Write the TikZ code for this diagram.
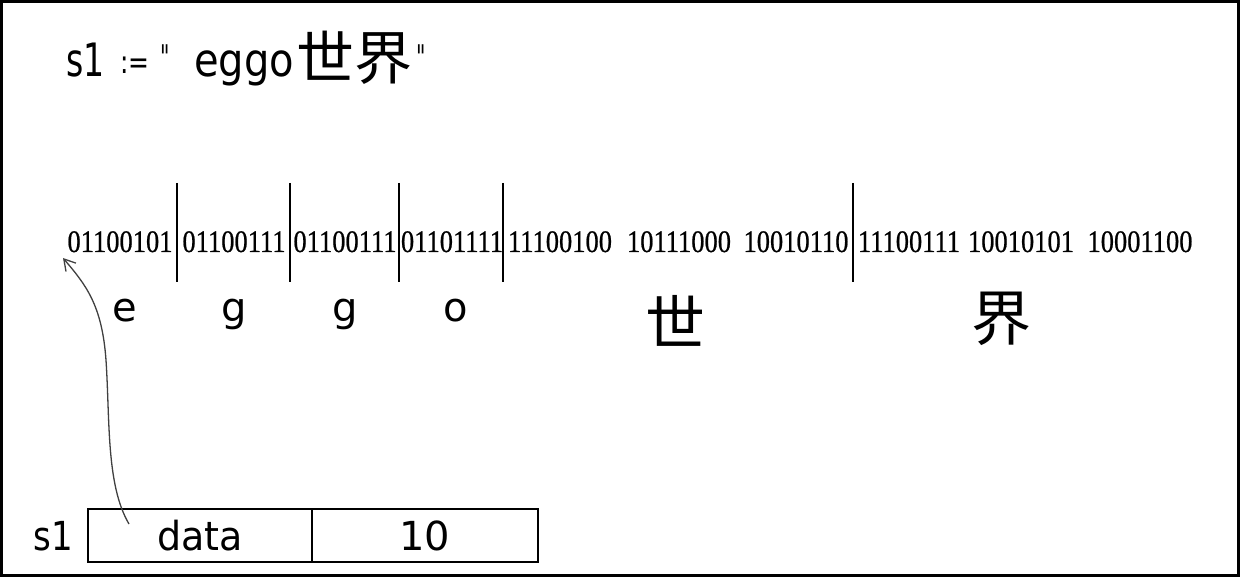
\documentclass[tikz,border=0pt]{standalone}
\usepackage{fontspec}
\usepackage{graphicx}
\setmainfont{Liberation Serif}
\newfontfamily\binfont[FakeBold=0.8]{Liberation Serif}
\newfontfamily\comic{DejaVu Sans}
\newfontfamily\cjk{Noto Sans CJK SC}
\usetikzlibrary{arrows.meta}
\tikzset{
  bin/.style={font=\binfont\fontsize{26.5}{30}\selectfont, inner sep=0pt, anchor=base},
  sepline/.style={line width=1.8pt},
  lab/.style={font=\comic\fontsize{40}{46}\selectfont, inner sep=0pt},
  ttl/.style={font=\comic\fontsize{46}{50}\selectfont, inner sep=0pt, anchor=base west},
  han/.style={font=\cjk\fontsize{60}{64}\selectfont, inner sep=0pt},
  cell/.style={draw, line width=1.3pt, minimum height=53pt, inner sep=0pt,
    font=\comic\fontsize{40}{46}\selectfont},
  ptr/.style={line width=1.3pt, draw=black!75, -{Straight Barb[length=11pt,width=13pt]}}
}
\newcommand{\tallbin}[1]{\scalebox{1}[1.18]{#1}}
\newcommand{\narrow}[2]{\scalebox{#1}[1]{#2}}
\begin{document}
\begin{tikzpicture}[x=1pt,y=-1pt]
\useasboundingbox (0,0) rectangle (1240,577);
\draw[line width=3pt] (1.5,1.5) rectangle (1238.5,575.5);
% title
\node[ttl] (t1) at (66,77) {\narrow{0.72}{s1}};
\node[ttl, font=\comic\fontsize{32}{36}\selectfont] (t2) at (120,74) {\narrow{0.78}{:=}};
\node[ttl, font=\comic\fontsize{34}{36}\selectfont] (t3) at (160,70) {\narrow{0.6}{\char34}};
\node[ttl] (t4) at (194,77) {\narrow{0.87}{eggo}};
\node[ttl, font=\cjk\fontsize{58}{64}\selectfont] (t5) at (296,80) {世界};
\node[ttl, font=\comic\fontsize{34}{36}\selectfont] (t6) at (416,70) {\narrow{0.6}{\char34}};
% bytes
\node[bin] (b1) at (120,252) {\tallbin{01100101}};
\node[bin] (b2) at (234,252) {\tallbin{01100111}};
\node[bin] (b3) at (345,252) {\tallbin{01100111}};
\node[bin] (b4) at (452,252) {\tallbin{01101111}};
\node[bin] (b5) at (560,252) {\tallbin{11100100}};
\node[bin] (b6) at (679,252) {\tallbin{10111000}};
\node[bin] (b7) at (796,252) {\tallbin{10010110}};
\node[bin] (b8) at (909,252) {\tallbin{11100111}};
\node[bin] (b9) at (1021,252) {\tallbin{10010101}};
\node[bin] (b10) at (1140,252) {\tallbin{10001100}};
% separators
\draw[sepline] (177,183) -- (177,282);
\draw[sepline] (290,183) -- (290,282);
\draw[sepline] (399,183) -- (399,282);
\draw[sepline] (503,183) -- (503,282);
\draw[sepline] (853,183) -- (853,282);
% characters
\node[lab, anchor=base] (ce) at (125,322) {e};
\node[lab, anchor=base] (cg1) at (234,322) {g};
\node[lab, anchor=base] (cg2) at (345,322) {g};
\node[lab, anchor=base] (co) at (456,322) {o};
\node[han] (cshi) at (675,321) {世};
\node[han] (cjie) at (1001,319) {界};
% struct
\node[lab, anchor=base] (s1) at (53,550) {\narrow{0.85}{s1}};
\node[cell, minimum width=224pt] (data) at (200,535.5) {\narrow{0.95}{data}};
\node[cell, minimum width=226pt] (len) at (425,535.5) {10};
% pointer
\coordinate (tail) at (129,524);
\coordinate (tip) at (63,258);
\draw[ptr] (tail) .. controls (106,485) and (110,420) .. (106,360)
  .. controls (102,305) and (86,285) .. (tip);
\end{tikzpicture}
\end{document}
